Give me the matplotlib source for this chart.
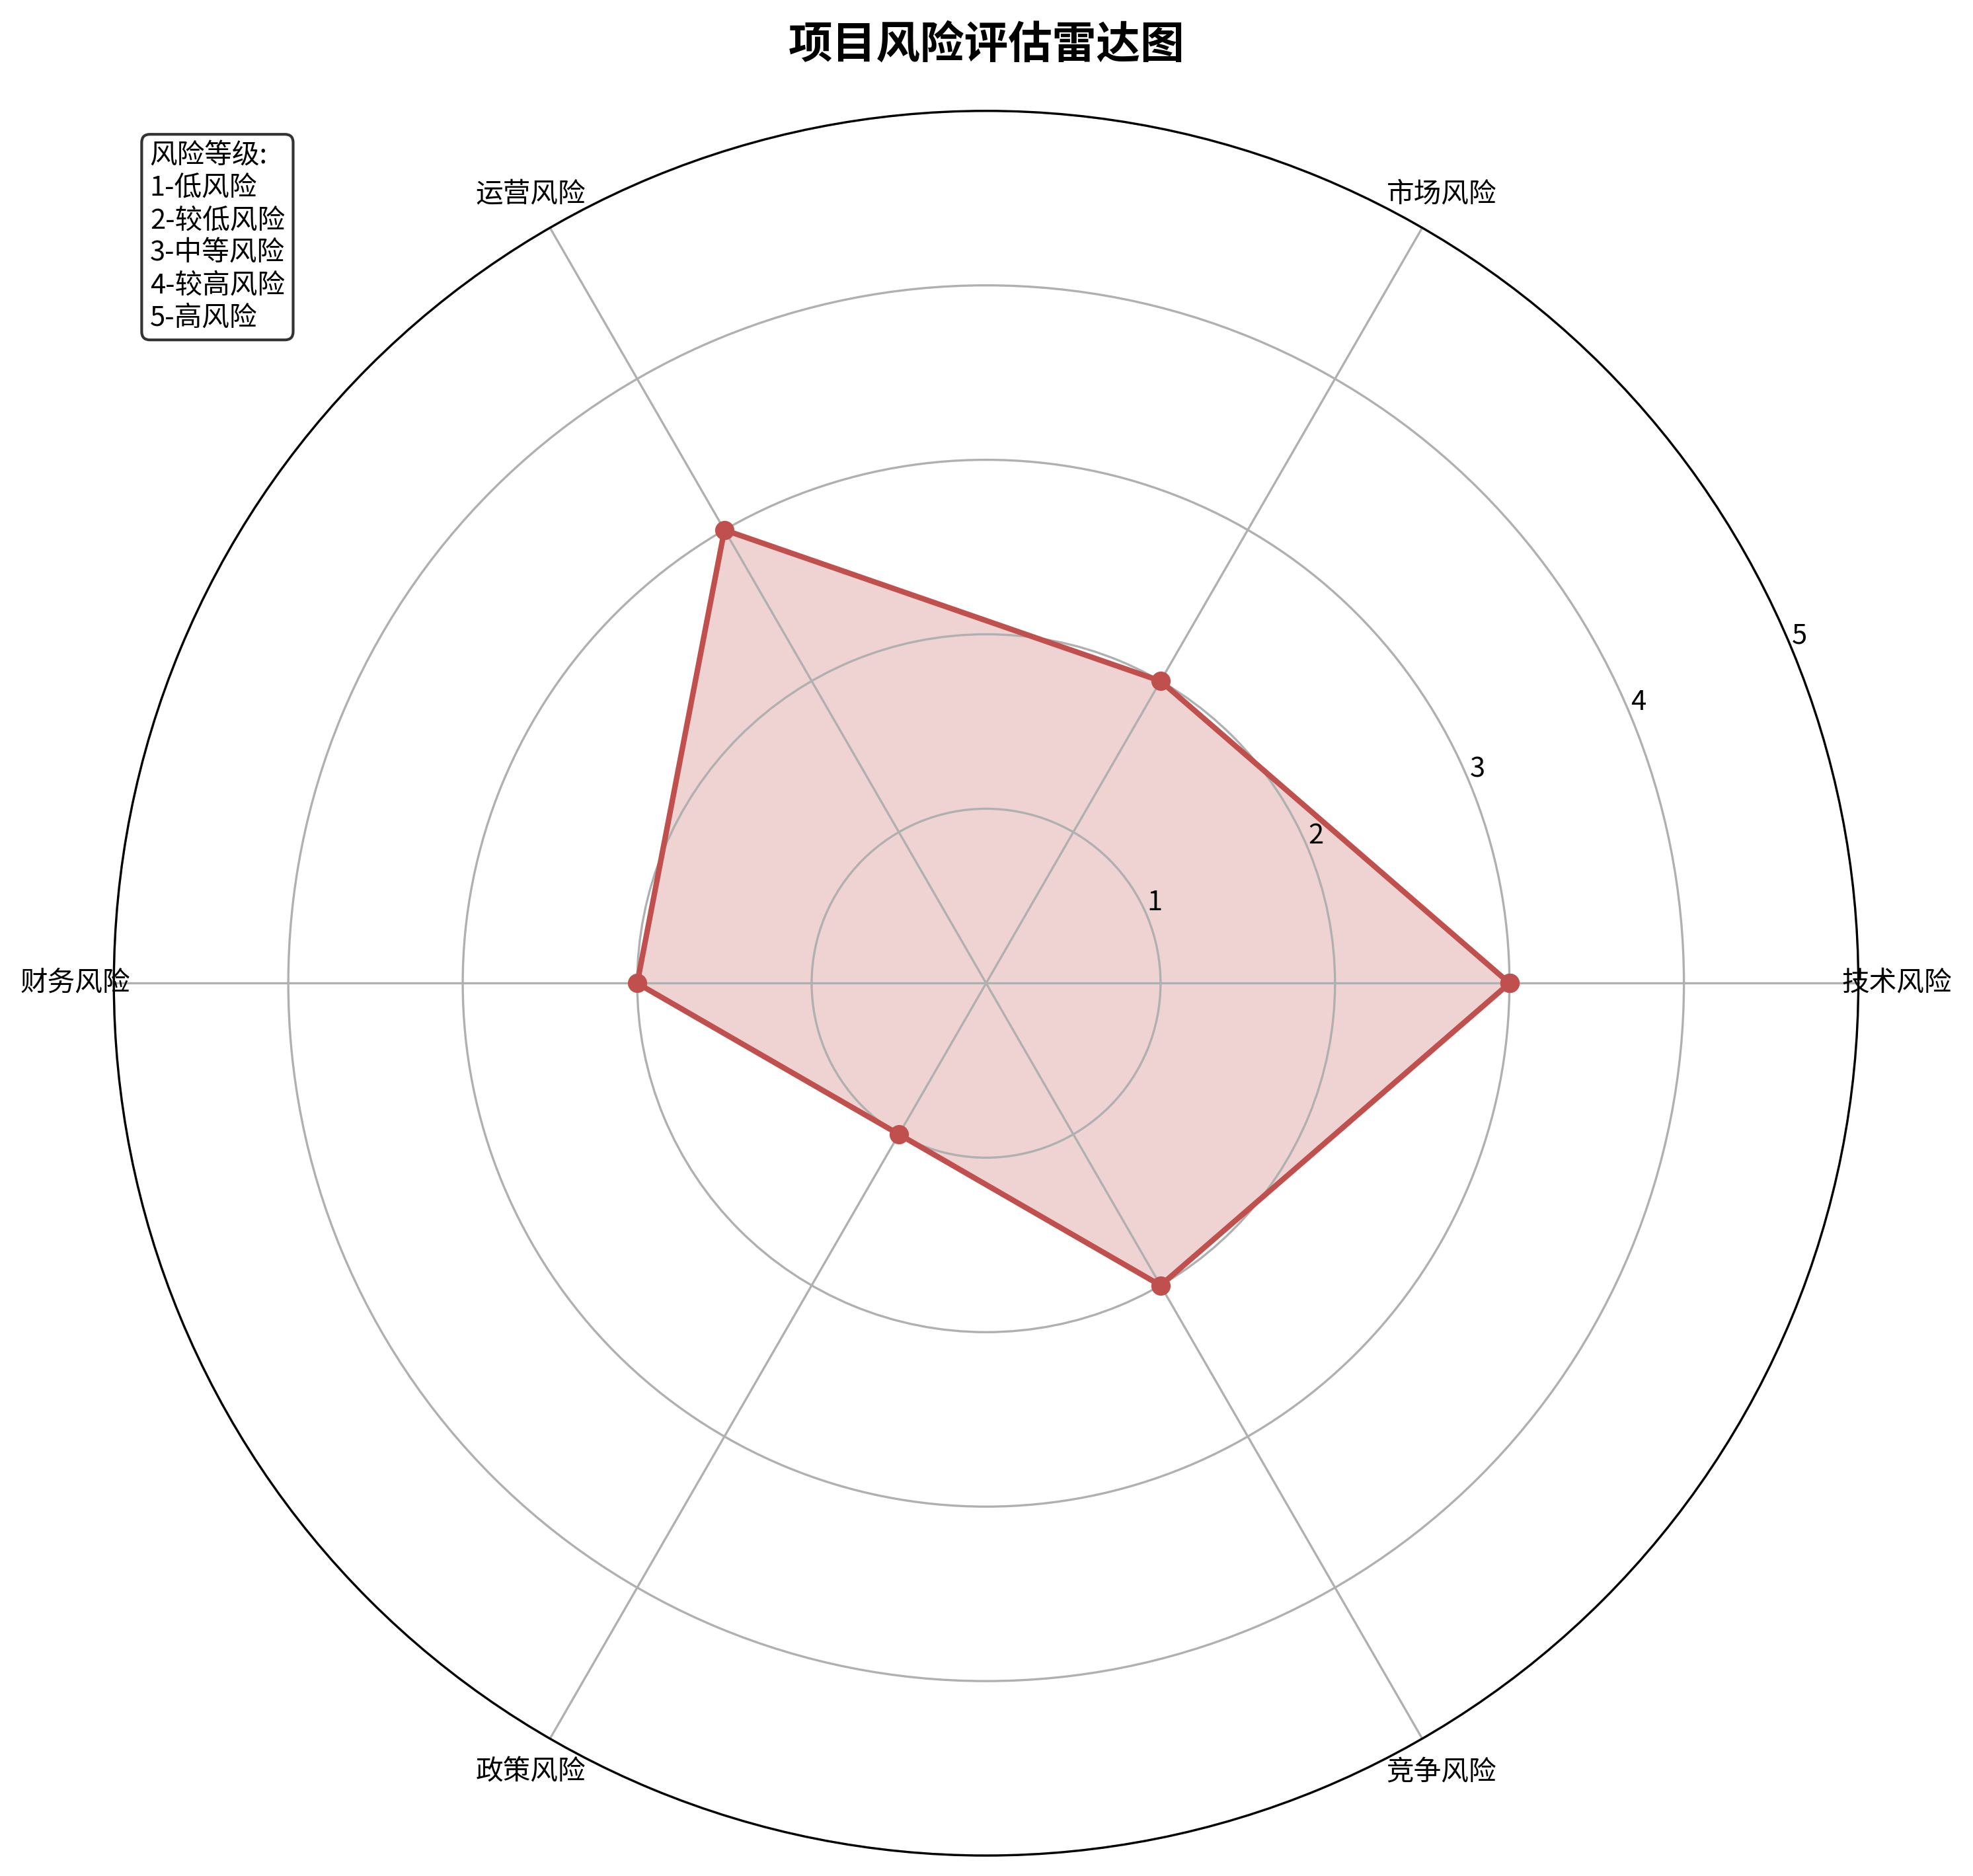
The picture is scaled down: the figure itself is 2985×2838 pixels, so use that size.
import numpy as np
import matplotlib
matplotlib.use("Agg")
import matplotlib.pyplot as plt

plt.rcParams['font.family'] = ['Noto Sans CJK SC', 'DejaVu Sans']

categories = ['技术风险', '市场风险', '运营风险', '财务风险', '政策风险', '竞争风险']
values = [3, 2, 3, 2, 1, 2]
r_ticks = [1, 2, 3, 4, 5]
title = '项目风险评估雷达图'
legend_text = '风险等级:\n1-低风险\n2-较低风险\n3-中等风险\n4-较高风险\n5-高风险'

n = len(categories)
angles = np.linspace(0, 2 * np.pi, n, endpoint=False).tolist()
vals = values + values[:1]
angs = angles + angles[:1]

fig = plt.figure(figsize=(9.95, 9.46), dpi=300)
ax = fig.add_axes([0.0576, 0.0109, 0.8844, 0.930], projection='polar')
color = '#C0504D'
ax.plot(angs, vals, color=color, linewidth=2, marker='o', markersize=6)
ax.fill(angs, vals, color=color, alpha=0.25)
ax.set_xticks(angles)
ax.set_xticklabels(categories, fontsize=10)
ax.set_ylim(0, 5)
ax.set_yticks(r_ticks)
ax.set_yticklabels([str(t) for t in r_ticks], fontsize=10)
ax.grid(True, color='#b0b0b0', linewidth=0.8)

fig.text(0.5, 0.976, title, fontsize=16, fontweight='bold', ha='center', va='center')
fig.text(0.076, 0.924, legend_text, fontsize=10, ha='left', va='top', linespacing=1.25,
         bbox=dict(boxstyle='round,pad=0.3', facecolor='white', edgecolor='#333333'))

fig.savefig('out.png', dpi=300)
